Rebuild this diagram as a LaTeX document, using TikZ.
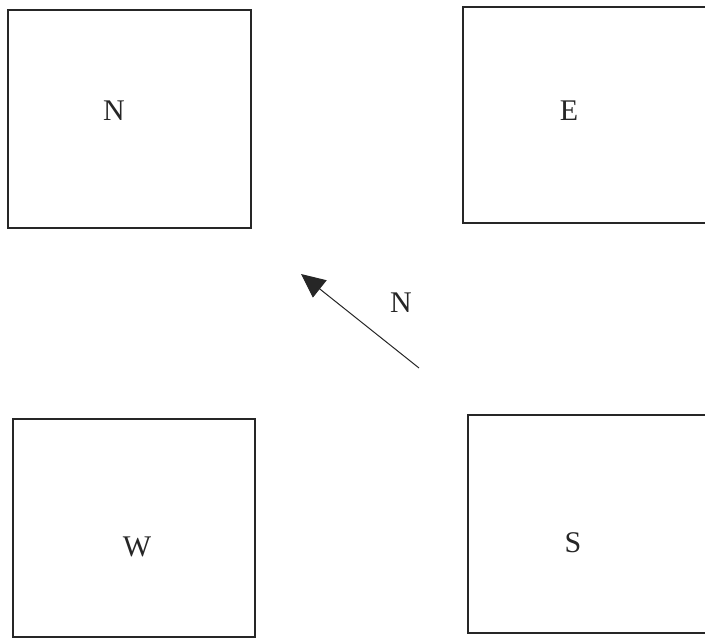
\documentclass[tikz,border=0pt]{standalone}
\usepackage{fontspec}
\setmainfont{Liberation Serif}
\usetikzlibrary{arrows.meta}
\begin{document}
\begin{tikzpicture}[x=1pt,y=-1pt,
  boxline/.style={draw=black!85,line width=1.1pt},
  lbl/.style={font=\fontsize{30}{32}\selectfont,text=black!85,inner sep=0pt},
  arr/.style={draw=black!85,line width=1pt,-{Triangle[length=24pt,width=22pt]}}]
\useasboundingbox (0,0) rectangle (705,640);
\clip (0,0) rectangle (705,640);
\draw[boxline] (8,10) rectangle (251,228);
\draw[boxline] (463,7) rectangle (760,223);
\draw[boxline] (13,419) rectangle (255,637);
\draw[boxline] (468,415) rectangle (760,633);
\node[lbl] (ln) at (114,111) {N};
\node[lbl] (le) at (569,111) {E};
\node[lbl] (lw) at (137,547) {W};
\node[lbl] (ls) at (573,543) {S};
\node[lbl] (ld) at (401,303) {N};
\coordinate (tail) at (419,368);
\coordinate (tip) at (301,274);
\draw[arr] (tail) -- (tip);
\end{tikzpicture}
\end{document}
